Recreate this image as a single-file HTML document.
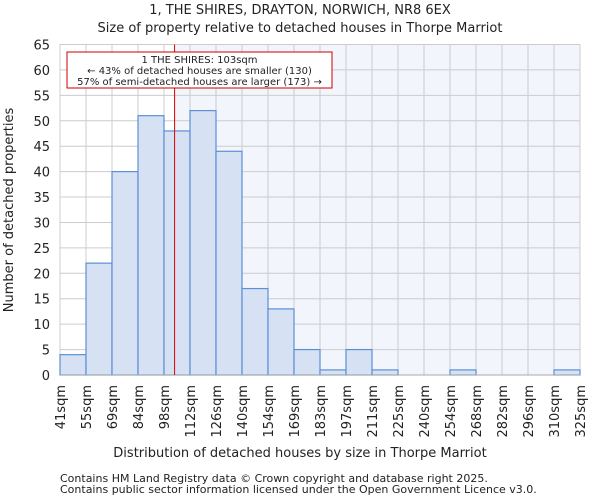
<!DOCTYPE html>
<html><head><meta charset="utf-8"><style>
body{margin:0;background:#fff;font-family:"DejaVu Sans","Liberation Sans",sans-serif}
svg text{font-family:"DejaVu Sans","Liberation Sans",sans-serif;fill:#222}
</style></head><body>
<svg id="c" width="600" height="500" viewBox="0 0 600 500">
<text x="300" y="14" font-size="13" text-anchor="middle">1, THE SHIRES, DRAYTON, NORWICH, NR8 6EX</text>
<text x="300" y="32" font-size="13" text-anchor="middle">Size of property relative to detached houses in Thorpe Marriot</text>
<g id="plot"></g>
<text x="300" y="457" font-size="13" text-anchor="middle">Distribution of detached houses by size in Thorpe Marriot</text>
<text transform="translate(13,210) rotate(-90)" font-size="13" text-anchor="middle">Number of detached properties</text>
<text x="60" y="482" font-size="11" fill="#444">Contains HM Land Registry data © Crown copyright and database right 2025.</text>
<text x="60" y="493" font-size="11" fill="#444">Contains public sector information licensed under the Open Government Licence v3.0.</text>
</svg>
<script>
const binLabels=["41sqm","55sqm","69sqm","84sqm","98sqm","112sqm","126sqm","140sqm","154sqm","169sqm","183sqm","197sqm","211sqm","225sqm","240sqm","254sqm","268sqm","282sqm","296sqm","310sqm","325sqm"];
const counts=[4,22,40,51,48,52,44,17,13,5,1,5,1,0,0,1,0,0,0,1];
const yTicks=[0,5,10,15,20,25,30,35,40,45,50,55,60,65];
const propertySize=103;
const binEdges=[41,55,69,84,98,112,126,140,154,169,183,197,211,225,240,254,268,282,296,310,325];
const X0=60,X1=580,Y0=375,Y1=44.5,YMAX=65;
const n=counts.length,bw=(X1-X0)/n;
const xi=i=>X0+i*bw;
const y=v=>Y0-(v/YMAX)*(Y0-Y1);
function xv(v){for(let i=0;i<binEdges.length-1;i++){if(v<=binEdges[i+1])return xi(i)+(v-binEdges[i]+0.7)/(binEdges[i+1]-binEdges[i])*bw;}return X1;}
const NS="http://www.w3.org/2000/svg",g=document.getElementById("plot");
function mk(t,a){const e=document.createElementNS(NS,t);for(const k in a)e.setAttribute(k,a[k]);g.appendChild(e);return e;}
const rx=xv(propertySize);
let bg=mk("rect",{x:rx,y:Y1,width:X1-rx,height:Y0-Y1,fill:"#f2f5fc"});


yTicks.forEach(t=>{
 let l=mk("line",{x1:X0,x2:X1,y1:y(t),y2:y(t),stroke:"#ccc"});
 
 
 let tx=mk("text",{x:X0-10,y:y(t)+5,"font-size":"13","text-anchor":"end"});tx.textContent=t;
 
 
});
binLabels.forEach((lb,i)=>{
 let l=mk("line",{x1:xi(i),x2:xi(i),y1:Y1,y2:Y0,stroke:"#ccc"});
 
 
 let tx=mk("text",{transform:`translate(${xi(i)+5},${Y0+10}) rotate(-90)`,"font-size":"13","text-anchor":"end"});tx.textContent=lb;
 
 
});
counts.forEach((c,i)=>{
 if(c<=0)return;
 let r=mk("rect",{x:xi(i),y:y(c),width:bw,height:Y0-y(c),fill:"#d6e1f3",stroke:"#5b8fd6","stroke-width":"1.2"});
 
 
});
let ax=mk("line",{x1:X0,x2:X1,y1:Y0,y2:Y0,stroke:"#aaa"});


let ml=mk("line",{x1:rx,x2:rx,y1:Y1,y2:Y0,stroke:"#e00000","stroke-width":"1"});


let box=mk("rect",{x:67,y:52,width:265,height:36,fill:"#fff",stroke:"#c00","stroke-width":"1"});


[["1 THE SHIRES: 103sqm",63],["← 43% of detached houses are smaller (130)",74],["57% of semi-detached houses are larger (173) →",85]].forEach(([t,yy])=>{
 let tx=mk("text",{x:199.5,y:yy,"font-size":"10","text-anchor":"middle"});tx.textContent=t;
 
 
});
</script>
</body></html>
